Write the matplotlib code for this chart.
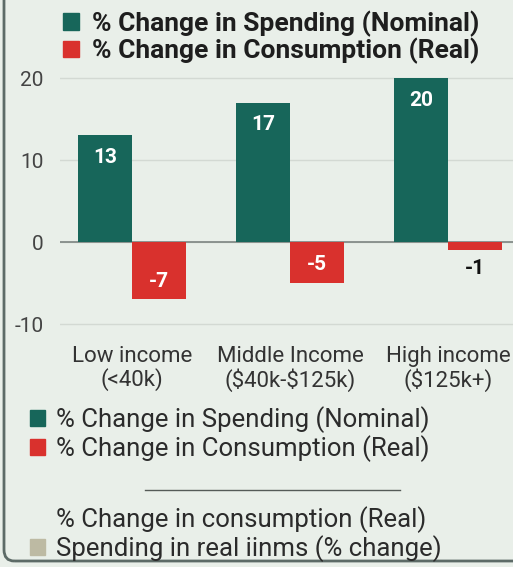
import numpy as np
import matplotlib
matplotlib.use("Agg")
import matplotlib.pyplot as plt
from matplotlib.patches import Patch, FancyBboxPatch
from matplotlib.lines import Line2D

plt.rcParams["font.family"] = ["Roboto", "DejaVu Sans"]

categories = ["Low income\n(<40k)", "Middle Income\n(\\$40k-\\$125k)", "High income\n(\\$125k+)"]
spending_nominal = [13, 17, 20]
consumption_real = [-7, -5, -1]
yticks = [-10, 0, 10, 20]

GREEN = "#17665a"
RED = "#d9312d"
BEIGE = "#bdbaa3"
BG = "#e9efe9"
TXT = "#2b2b2b"

fig = plt.figure(figsize=(5.13, 5.67), dpi=100, facecolor=BG)
ax = fig.add_axes([60/513, (567-335)/567, 453/513, 265/567], facecolor=BG)

x = np.arange(len(categories))
w = 0.34
b1 = ax.bar(x - w/2, spending_nominal, w, color=GREEN, zorder=3)
b2 = ax.bar(x + w/2, consumption_real, w, color=RED, zorder=3)

for rect, v in zip(b1, spending_nominal):
    ax.annotate(f"{v}", (rect.get_x() + rect.get_width()/2, v), xytext=(0, -16),
                textcoords="offset points", ha="center", va="center",
                color="white", fontsize=15, fontweight="bold", zorder=4)
for rect, v in zip(b2, consumption_real):
    inside = abs(v) >= 3
    ax.annotate(f"{v}", (rect.get_x() + rect.get_width()/2, v),
                xytext=(0, 13 if inside else -13), textcoords="offset points",
                ha="center", va="center", color="white" if inside else "#111111",
                fontsize=15, fontweight="bold", zorder=4)

ax.set_xlim(-0.456, 2.41)
ax.set_ylim(-(335-242)/8.2, (242-70)/8.2)
ax.set_yticks(yticks)
ax.set_yticklabels([str(t) for t in yticks])
ax.set_xticks(x)
ax.set_xticklabels(categories, linespacing=1.05)
ax.tick_params(axis="y", length=0, pad=12, labelsize=15, labelcolor="#444444")
ax.tick_params(axis="x", length=0, pad=8, labelsize=16, labelcolor="#333333")
for s in ax.spines.values():
    s.set_visible(False)
ax.grid(axis="y", color="#d3d9d3", lw=1, zorder=0)
ax.axhline(0, color="#7d8582", lw=1.2, zorder=2)

# top legend (bold)
h = [Patch(color=GREEN), Patch(color=RED)]
labels = ["% Change in Spending (Nominal)", "% Change in Consumption (Real)"]
fig.legend(h, labels, loc="upper left", bbox_to_anchor=(50/513, 1 + 3/567),
           frameon=False, prop={"weight": "bold", "size": 19}, handlelength=0.6,
           handleheight=0.6, handletextpad=0.5, labelspacing=0.05, borderpad=0,
           labelcolor="#1e1e1e")

# bottom legend
fig.legend(h, labels, loc="upper left", bbox_to_anchor=(17/513, 1 - 393/567),
           frameon=False, prop={"size": 18.5}, handlelength=0.6,
           handleheight=0.6, handletextpad=0.4, labelspacing=0.1, borderpad=0,
           labelcolor=TXT)

fig.add_artist(Line2D([145/513, 400/513], [1 - 490/567, 1 - 490/567],
                      color="#555b58", lw=1))

h2 = [Patch(color="none"), Patch(color=BEIGE)]
labels2 = ["% Change in consumption (Real)", "Spending in real iinms (% change)"]
fig.legend(h2, labels2, loc="upper left", bbox_to_anchor=(17/513, 1 - 493/567),
           frameon=False, prop={"size": 18.5}, handlelength=0.6,
           handleheight=0.6, handletextpad=0.4, labelspacing=0.1, borderpad=0,
           labelcolor=TXT)

# left frame edge with rounded bottom corner
fig.add_artist(FancyBboxPatch((4/513, 6/567), 1.2, 1.2,
                              boxstyle="round,pad=0,rounding_size=0.02",
                              fc="none", ec="#5d6b67", lw=2,
                              transform=fig.transFigure))

fig.savefig("out.png", dpi=100, facecolor=BG)
